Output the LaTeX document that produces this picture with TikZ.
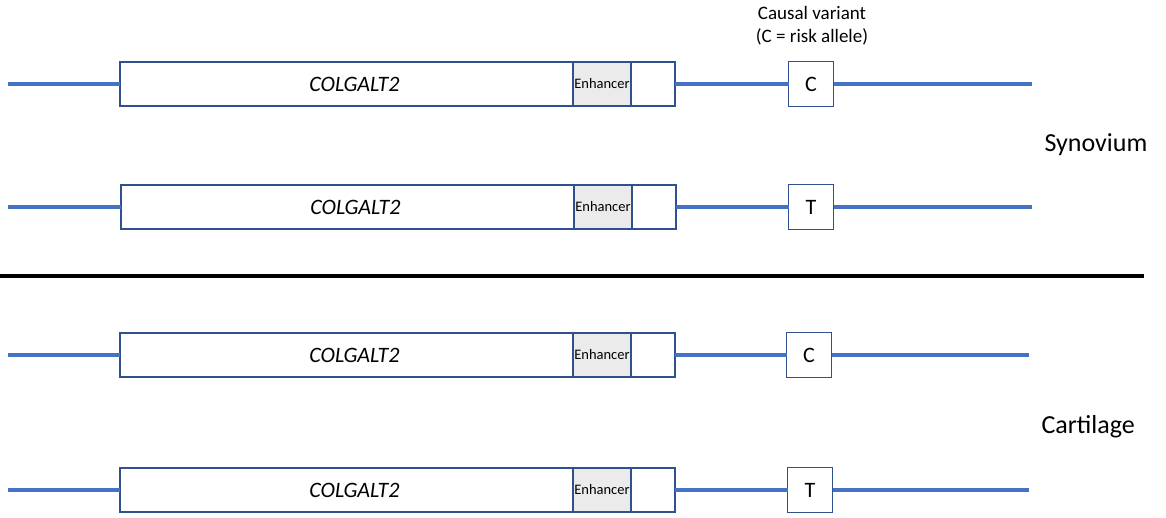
\documentclass[tikz,border=0pt]{standalone}
\usepackage{fontspec}
\setmainfont{Carlito}
\usetikzlibrary{positioning}
\definecolor{dnablue}{HTML}{4472C4}
\definecolor{boxblue}{HTML}{2F528F}
\definecolor{enhgrey}{HTML}{EBEBEB}
\begin{document}
\begin{tikzpicture}[x=1pt, y=-1pt,
    gene/.style={rectangle, draw=boxblue, line width=1.2pt, fill=white, minimum width=453pt, minimum height=44pt, inner sep=0pt, outer sep=0pt, font=\fontsize{22}{26}\selectfont\itshape, execute at begin node={\hspace*{16pt}}},
    enhancer/.style={rectangle, draw=boxblue, line width=1.2pt, fill=enhgrey, minimum width=58pt, minimum height=44pt, inner sep=0pt, outer sep=0pt, font=\fontsize{14.5}{16}\selectfont},
    genetail/.style={rectangle, draw=boxblue, line width=1.2pt, fill=white, minimum width=44pt, minimum height=44pt, inner sep=0pt, outer sep=0pt},
    variant/.style={rectangle, draw=boxblue, line width=1.2pt, fill=white, minimum width=45pt, minimum height=45pt, inner sep=0pt, outer sep=0pt, font=\fontsize{22}{26}\selectfont},
    tissue/.style={font=\fontsize{26}{30}\selectfont, anchor=west},
    dna/.style={dnablue, line width=3.6pt},
    node distance=0pt]
    \useasboundingbox (0,0) rectangle (1166,518);

    % Title over the variant
    \node[align=center, font=\fontsize{19}{23}\selectfont] (causal) at (812,26) {Causal variant\\(C = risk allele)};

    % Synovium, risk allele
    \coordinate (startA) at (8,84);
    \node[gene, anchor=west] (geneA) at (120,84) {COLGALT2};
    \node[enhancer, right=of geneA] (enhA) {Enhancer};
    \node[genetail, right=of enhA] (tailA) {};
    \node[variant] (varA) at (811,84) {C};
    \coordinate (endA) at (1032,84);
    \draw[dna] (startA) -- (geneA);
    \draw[dna] (tailA) -- (varA);
    \draw[dna] (varA) -- (endA);

    % Synovium, other allele
    \coordinate (startB) at (8,207);
    \node[gene, anchor=west] (geneB) at (121,207) {COLGALT2};
    \node[enhancer, right=of geneB] (enhB) {Enhancer};
    \node[genetail, right=of enhB] (tailB) {};
    \node[variant] (varB) at (811,207) {T};
    \coordinate (endB) at (1032,207);
    \draw[dna] (startB) -- (geneB);
    \draw[dna] (tailB) -- (varB);
    \draw[dna] (varB) -- (endB);

    \node[tissue] (synovium) at (1041,145) {Synovium};

    % Divider
    \coordinate (divL) at (0,276);
    \coordinate (divR) at (1144,276);
    \draw[line width=4pt] (divL) -- (divR);

    % Cartilage, risk allele
    \coordinate (startC) at (8,355);
    \node[gene, anchor=west] (geneC) at (120,355) {COLGALT2};
    \node[enhancer, right=of geneC] (enhC) {Enhancer};
    \node[genetail, right=of enhC] (tailC) {};
    \node[variant] (varC) at (809,355) {C};
    \coordinate (endC) at (1029,355);
    \draw[dna] (startC) -- (geneC);
    \draw[dna] (tailC) -- (varC);
    \draw[dna] (varC) -- (endC);

    % Cartilage, other allele
    \coordinate (startD) at (8,490);
    \node[gene, anchor=west] (geneD) at (120,490) {COLGALT2};
    \node[enhancer, right=of geneD] (enhD) {Enhancer};
    \node[genetail, right=of enhD] (tailD) {};
    \node[variant] (varD) at (810,490) {T};
    \coordinate (endD) at (1029,490);
    \draw[dna] (startD) -- (geneD);
    \draw[dna] (tailD) -- (varD);
    \draw[dna] (varD) -- (endD);

    \node[tissue] (cartilage) at (1038,427) {Cartilage};
\end{tikzpicture}
\end{document}
